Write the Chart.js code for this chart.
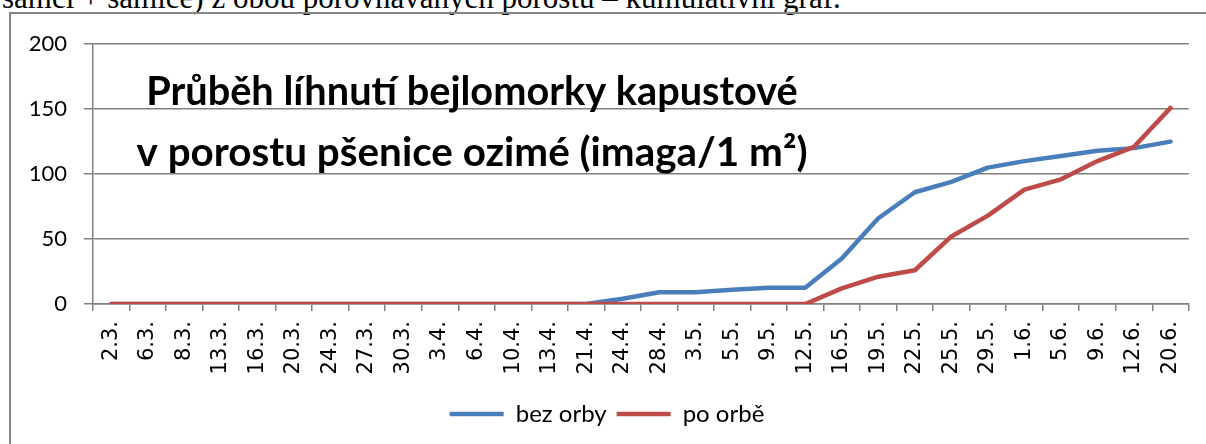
<!DOCTYPE html>
<html>
<head>
<meta charset="utf-8">
<script src="https://cdn.jsdelivr.net/npm/chart.js@4"></script>
<style>
  html, body { margin: 0; padding: 0; background: #fff; overflow: hidden; }
  body { width: 1206px; height: 444px; position: relative; }
  #caption {
    position: absolute; left: 2px; top: -18px;
    font: 31px 'Liberation Serif', 'Times New Roman', serif;
    line-height: 32px; white-space: nowrap; color: #000;
  }
  #frame {
    position: absolute; left: 9px; top: 12px;
    border-left: 2px solid #868686; border-top: 2px solid #868686;
    width: 1195px; height: 430px;
  }
</style>
</head>
<body>
<div id="caption">samci + samice) z obou porovnávaných porostů – kumulativní graf.</div>
<div id="frame"><canvas id="hatchChart" width="1195" height="430"></canvas></div>
<script>
// Chart data: cumulative emergence (imaga / 1 m2)
const dates = ['2.3.', '6.3.', '8.3.', '13.3.', '16.3.', '20.3.', '24.3.', '27.3.', '30.3.', '3.4.',
    '6.4.', '10.4.', '13.4.', '21.4.', '24.4.', '28.4.', '3.5.', '5.5.', '9.5.', '12.5.',
    '16.5.', '19.5.', '22.5.', '25.5.', '29.5.', '1.6.', '5.6.', '9.6.', '12.6.', '20.6.'];
const bezOrby = [0, 0, 0, 0, 0, 0, 0, 0, 0, 0,
    0, 0, 0, 0, 4, 9, 9, 11, 12.5, 12.5,
    35, 66, 86, 94, 105, 110, 114, 118, 120, 125];
const poOrbe = [0, 0, 0, 0, 0, 0, 0, 0, 0, 0,
    0, 0, 0, 0, 0, 0, 0, 0, 0, 0,
    12, 21, 26, 52, 68, 88, 96, 110, 121, 151];
const yTicks = [0, 50, 100, 150, 200];
const titleLines = ['Průběh líhnutí bejlomorky kapustové', 'v porostu pšenice ozimé (imaga/1 m²)'];

// Title drawn inside the plot area, like the original
const insideTitle = {
    id: 'insideTitle',
    afterDraw(chart) {
        const ctx = chart.ctx;
        const widths = [652, 671];
        const baselines = [91, 152];
        ctx.save();
        ctx.fillStyle = '#000';
        ctx.textAlign = 'center';
        ctx.textBaseline = 'alphabetic';
        titleLines.forEach(function(line, i) {
            ctx.font = 'bold 32px Lato';
            const size = 32 * widths[i] / ctx.measureText(line).width;
            ctx.font = 'bold ' + size.toFixed(1) + 'px Lato';
            ctx.fillText(line, 461, baselines[i]);
        });
        ctx.restore();
    }
};

const ctx = document.getElementById('hatchChart').getContext('2d');
window.hatchChart = new Chart(ctx, {
    type: 'line',
    data: {
        labels: dates,
        datasets: [{
            label: 'bez orby',
            data: bezOrby,
            order: 1,
            borderColor: '#4A7EBB',
            backgroundColor: '#4A7EBB',
            borderWidth: 4.5,
            borderCapStyle: 'round',
            borderJoinStyle: 'round',
            pointRadius: 0,
            tension: 0
        }, {
            label: 'po orbě',
            data: poOrbe,
            order: 0, // red drawn on top, like the original
            borderColor: '#BE4B48',
            backgroundColor: '#BE4B48',
            borderWidth: 4.5,
            borderCapStyle: 'round',
            borderJoinStyle: 'round',
            pointRadius: 0,
            tension: 0
        }]
    },
    options: {
        responsive: false,
        animation: false,
        layout: {
            padding: { top: 29, right: 17, left: 14, bottom: 8 }
        },
        scales: {
            x: {
                offset: true,
                afterFit: function(scale) { scale.height = 88; },
                grid: {
                    offset: true,
                    drawOnChartArea: false,
                    drawTicks: true,
                    tickLength: 7,
                    color: '#808080',
                    lineWidth: 1.5
                },
                border: { color: '#808080', width: 1.5 },
                ticks: {
                    autoSkip: false,
                    minRotation: 90,
                    maxRotation: 90,
                    padding: 10,
                    color: '#000',
                    font: { family: 'DejaVu Sans', size: 21 }
                }
            },
            y: {
                min: 0,
                max: 200,
                afterFit: function(scale) { scale.width = 68; },
                afterBuildTicks: function(scale) {
                    scale.ticks = yTicks.map(function(v) { return { value: v }; });
                },
                grid: {
                    color: '#808080',
                    lineWidth: 1.5,
                    tickLength: 9
                },
                border: { color: '#808080', width: 1.5 },
                ticks: {
                    padding: 17,
                    color: '#000',
                    font: { family: 'Lato', size: 22 }
                }
            }
        },
        plugins: {
            legend: {
                position: 'bottom',
                labels: {
                    usePointStyle: true,
                    pointStyle: 'line',
                    pointStyleWidth: 54,
                    padding: 10,
                    color: '#000',
                    font: { family: 'Lato', size: 24 },
                    sort: function(a, b) { return a.datasetIndex - b.datasetIndex; }
                }
            },
            tooltip: { enabled: false },
            title: { display: false }
        }
    },
    plugins: [insideTitle]
});
</script>
</body>
</html>
